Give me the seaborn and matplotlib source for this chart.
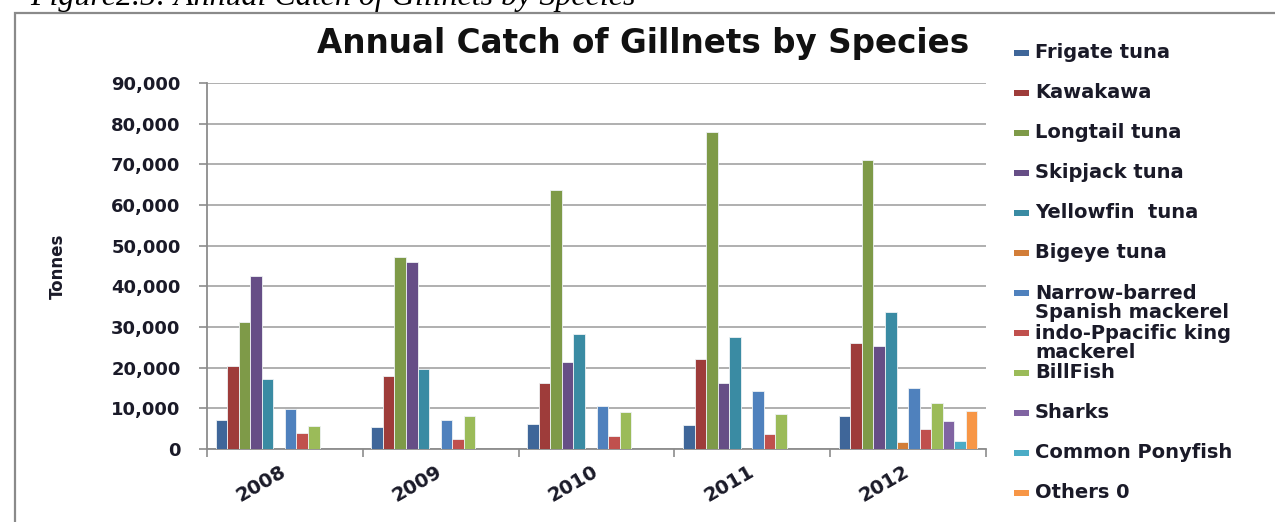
import matplotlib
matplotlib.use('Agg')
import matplotlib.pyplot as plt
from matplotlib.patches import Rectangle
from matplotlib.ticker import FuncFormatter, FixedLocator
import seaborn as sns
import pandas as pd

# Datos (toneladas)
years = ['2008', '2009', '2010', '2011', '2012']
species = ['Frigate tuna', 'Kawakawa', 'Longtail tuna', 'Skipjack tuna', 'Yellowfin  tuna',
           'Bigeye tuna', 'Narrow-barred\nSpanish mackerel', 'indo-Ppacific king\nmackerel',
           'BillFish', 'Sharks', 'Common Ponyfish', 'Others 0']
frigate = [7200, 5400, 6200, 5900, 8100]
kawakawa = [20300, 17900, 16200, 22100, 26000]
longtail = [31200, 47100, 63600, 78000, 71100]
skipjack = [42500, 45900, 21500, 16200, 25300]
yellowfin = [17100, 19700, 28400, 27500, 33700]
bigeye = [0, 0, 0, 0, 1600]
narrow_barred = [9900, 7100, 10600, 14300, 15000]
king_mackerel = [4000, 2500, 3100, 3700, 5000]
billfish = [5700, 8100, 9000, 8700, 11200]
sharks = [0, 0, 0, 0, 6900]
ponyfish = [0, 0, 0, 0, 1900]
others = [0, 0, 0, 0, 9300]
colors = ['#3F6699', '#9E3C3A', '#7E9A48', '#664E86', '#3A8BA3', '#D27D38',
          '#4F81BD', '#C0504D', '#9BBB59', '#8064A2', '#4BACC6', '#F79646']

series = [frigate, kawakawa, longtail, skipjack, yellowfin, bigeye,
          narrow_barred, king_mackerel, billfish, sharks, ponyfish, others]
rows = []
for sp, vals in zip(species, series):
    for yr, v in zip(years, vals):
        rows.append({'year': yr, 'species': sp, 'tonnes': v})
df = pd.DataFrame(rows)
df = df[df['tonnes'] > 0]

W, H = 1275, 522
fig = plt.figure(figsize=(W / 100, H / 100), dpi=100)
ax = fig.add_axes([207 / W, 1 - 449 / H, (986 - 207) / W, (449 - 83) / H])

sns.barplot(data=df, x='year', y='tonnes', hue='species', order=years, hue_order=species,
            palette=colors, saturation=1, width=0.89, errorbar=None, legend=False,
            edgecolor='#eef2f4', linewidth=0.6, ax=ax, zorder=3)

grey = '#8c8c8c'
ink = '#1a1a28'
ax.set_ylim(0, 90000)
ax.set_xlim(-0.5, 4.5)
ax.yaxis.set_major_locator(FixedLocator(range(0, 90001, 10000)))
ax.yaxis.set_major_formatter(FuncFormatter(lambda v, p: f'{int(v):,}'))
ax.grid(axis='y', color='#9a9a9a', linewidth=1.1, zorder=0)
ax.set_axisbelow(True)
for s in ['top', 'right']:
    ax.spines[s].set_visible(False)
for s in ['left', 'bottom']:
    ax.spines[s].set_color(grey)
    ax.spines[s].set_linewidth(1.3)
ax.tick_params(axis='y', length=6, color=grey, width=1.2, pad=13)
ax.set_xticks([-0.5 + i for i in range(6)], minor=True)
ax.tick_params(axis='x', which='major', length=0, pad=15)
ax.tick_params(axis='x', which='minor', length=6, color=grey, width=1.2)

for lab in ax.get_yticklabels():
    lab.set_fontweight('bold')
    lab.set_fontsize(13)
    lab.set_color(ink)
for lab in ax.get_xticklabels():
    lab.set_fontweight('bold')
    lab.set_fontsize(14)
    lab.set_rotation(30)
    lab.set_rotation_mode('anchor')
    lab.set_ha('right')
    lab.set_va('center')
    lab.set_color(ink)

ax.set_xlabel('')
ax.set_ylabel('Tonnes', fontsize=12, fontweight='bold', labelpad=32,
              fontfamily=['DejaVu Sans Condensed', 'Liberation Sans Narrow', 'DejaVu Sans'],
              color=ink)

# Marco del grafico
fig.patches.append(Rectangle((15 / W, -0.1), 1.2, 1 - 13 / H + 0.1, transform=fig.transFigure,
                             fill=False, edgecolor='#8a8a8a', linewidth=1.6))

# Pie de figura recortado (en el original queda cortado arriba)
fig.text(30 / W, 1 - 5 / H, 'Figure2.5: Annual Catch of Gillnets by Species', fontsize=23,
         fontstyle='italic', fontfamily='Liberation Serif', va='baseline', ha='left')

fig.text(643 / W, 1 - 44 / H, 'Annual Catch of Gillnets by Species', fontsize=23.5,
         fontweight='bold', ha='center', va='center', color='#111111')

# Leyenda
for i, (name, col) in enumerate(zip(species, colors)):
    yc = 53 + 40 * i
    extra = 20 * name.count('\n')
    fig.patches.append(Rectangle((1014 / W, 1 - (yc + 3) / H), 15 / W, 6 / H,
                                 transform=fig.transFigure, facecolor=col, edgecolor='none'))
    fig.text(1035 / W, 1 - (yc + 5 + extra) / H, name, fontsize=14, fontweight='bold',
             va='baseline', ha='left', linespacing=1.02, color=ink)

fig.savefig('out.png', dpi=100)
